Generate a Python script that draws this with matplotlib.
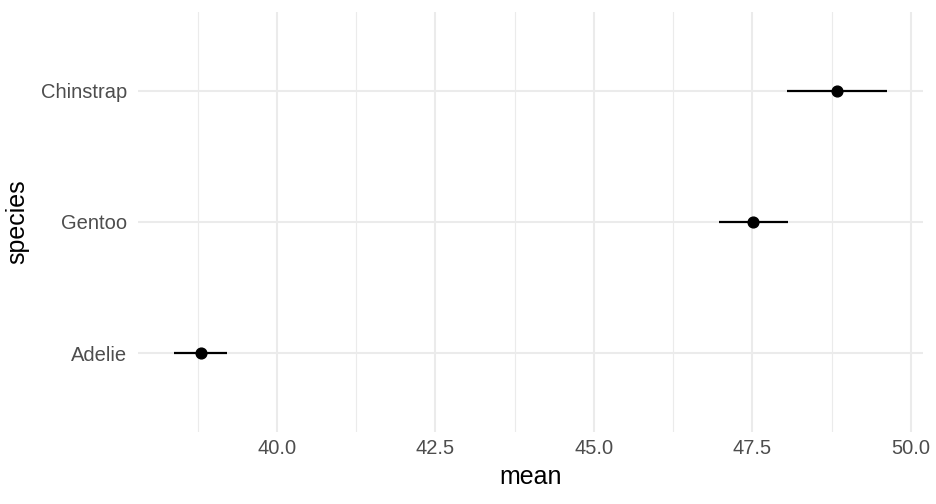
import numpy as np
import matplotlib.pyplot as plt
from matplotlib.ticker import MultipleLocator

plt.rcParams['font.family'] = ['Liberation Sans', 'DejaVu Sans']

species = ['Adelie', 'Gentoo', 'Chinstrap']
mean = [38.80, 47.51, 48.83]
lower = [38.37, 46.97, 48.05]
upper = [39.21, 48.06, 49.63]

fig = plt.figure(figsize=(9.36, 5.04), dpi=100)
ax = fig.add_axes([138 / 936, 72 / 504, 785 / 936, 420 / 504])

y = np.arange(1, len(species) + 1)

grid = '#EBEBEB'
ax.xaxis.set_major_locator(MultipleLocator(2.5))
ax.xaxis.set_minor_locator(MultipleLocator(1.25))
ax.grid(True, which='major', color=grid, linewidth=1.5, zorder=0)
ax.grid(True, which='minor', axis='x', color=grid, linewidth=0.8, zorder=0)

ax.hlines(y, lower, upper, color='black', linewidth=1.6, zorder=3)
ax.scatter(mean, y, s=60, color='black', zorder=4)

span = max(upper) - min(lower)
ax.set_xlim(min(lower) - 0.05 * span, max(upper) + 0.05 * span)
ax.set_ylim(0.4, len(species) + 0.6)
ax.set_yticks(y)
ax.set_yticklabels(species)
ax.xaxis.set_major_formatter(lambda v, p: f'{v:.1f}')

for s in ax.spines.values():
    s.set_visible(False)
ax.tick_params(which='both', length=0, labelsize=14.5, labelcolor='#4D4D4D')
ax.tick_params(axis='y', pad=8)
ax.tick_params(axis='x', pad=5)

ax.set_xlabel('mean', fontsize=18, labelpad=5)
ax.set_ylabel('species', fontsize=18, labelpad=8)

fig.savefig('out.png', dpi=100)
